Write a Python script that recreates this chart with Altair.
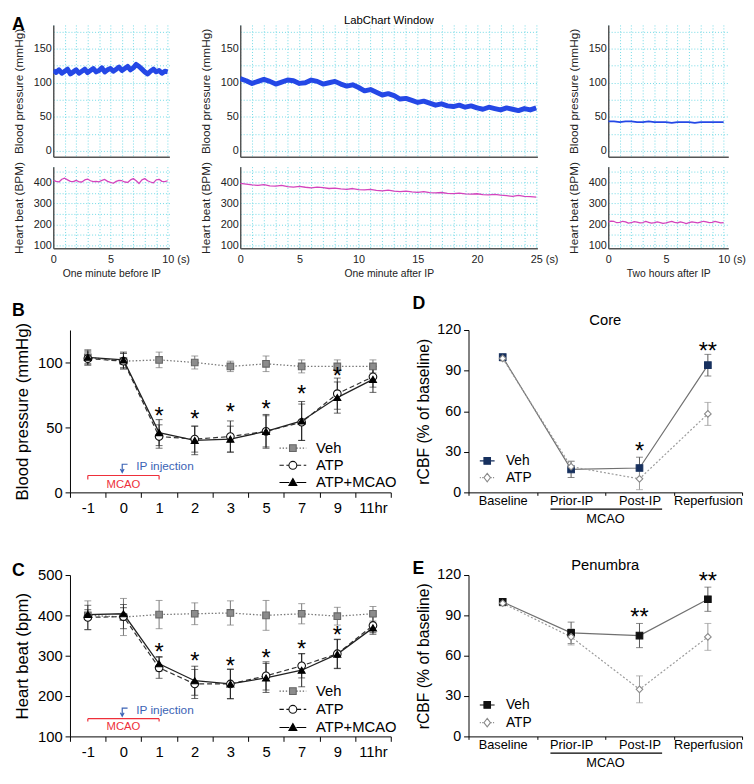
import altair as alt
import pandas as pd

FONT = "Liberation Sans"
GRID = "#6fd9e6"
TRACE_BLUE = "#2448e6"
TRACE_PINK = "#d444bd"
RED = "#ee2f3a"
IPBLUE = "#3b63b5"

# ---------------- Panel A : LabChart traces ----------------
a1_bp = [118, 115, 119, 114, 117, 120, 113, 116, 119, 114, 117, 120, 115, 118, 121, 116, 118, 122, 116, 119, 121,
         117, 120, 123, 118, 121, 124, 119, 122, 127, 124, 120, 116, 113, 117, 120, 116, 118, 114, 117, 116]
a1_hr = [410, 405, 402, 415, 420, 412, 405, 404, 410, 403, 402, 412, 416, 408, 404, 405, 403, 410, 414, 405, 400,
         396, 405, 410, 408, 402, 400, 412, 418, 408, 395, 412, 418, 408, 402, 398, 412, 415, 405, 404, 408]
a2_bp = [106, 103, 99, 102, 105, 102, 98, 101, 104, 103, 99, 100, 104, 102, 98, 100, 102, 98, 95, 97, 93, 88, 90, 86,
         82, 84, 81, 76, 77, 74, 71, 73, 70, 67, 69, 66, 65, 67, 64, 66, 63, 61, 64, 62, 60, 63, 61, 59, 62, 60, 63]
a2_hr = [396, 392, 388, 386, 389, 384, 382, 386, 380, 378, 381, 377, 374, 378, 375, 371, 373, 369, 367, 371, 366,
         364, 367, 362, 360, 363, 358, 356, 359, 355, 353, 356, 351, 350, 352, 348, 347, 349, 345, 344, 346, 342,
         341, 343, 339, 337, 333, 338, 334, 332, 330]
a3_bp = [43, 43, 42, 43, 43, 42, 42, 43, 42, 42, 42, 41, 42, 42, 42, 41, 42, 42, 42, 42, 42]
a3_hr = [212, 216, 214, 208, 210, 215, 212, 206, 208, 213, 211, 207, 209, 214, 210, 206, 208, 212, 209, 205, 207,
         211, 214, 210, 207, 212, 209, 204, 208, 212, 210, 207, 211, 215, 212, 208, 210, 214, 211, 207, 209]
t_a1 = [i * 0.25 for i in range(len(a1_bp))]
t_a1hr = [i * 0.25 for i in range(len(a1_hr))]
t_a2 = [i * 0.5 for i in range(len(a2_bp))]
t_a2hr = [i * 0.5 for i in range(len(a2_hr))]
t_a3 = [i * 0.5 for i in range(len(a3_bp))]
t_a3hr = [i * 0.25 for i in range(len(a3_hr))]
bp_grid = [0, 25, 50, 75, 100, 125, 150, 175]
hr_grid = [100, 150, 200, 250, 300, 350, 400, 450]

# ---------------- Panels B / C ----------------
hours = ["-1", "0", "1", "2", "3", "5", "7", "9", "11hr"]
group_names = ["Veh", "ATP", "ATP+MCAO"]
b_veh = [104, 101, 102, 100, 97, 99, 97, 97, 97]
b_veh_err = [6, 6, 6, 5, 4, 6, 5, 5, 5]
b_atp = [103, 101, 43, 41, 43, 47, 54, 76, 89]
b_atp_err = [5, 6, 9, 10, 12, 12, 14, 12, 8]
b_atpm = [104, 102, 46, 40, 41, 47, 55, 73, 87]
b_atpm_err = [5, 6, 10, 11, 10, 13, 15, 12, 10]
star_hours = ["1", "2", "3", "5", "7", "9"]
b_star_y = [63, 61, 66, 69, 80, 94]
b_star_txt = ["*", "*", "*", "*", "*", "*"]

c_veh = [400, 396, 402, 404, 406, 400, 404, 398, 404]
c_veh_err = [36, 46, 35, 27, 30, 37, 25, 22, 18]
c_atp = [395, 397, 270, 230, 230, 250, 275, 305, 375]
c_atp_err = [30, 30, 26, 36, 36, 35, 30, 36, 22]
c_atpm = [402, 404, 280, 238, 230, 245, 264, 304, 369]
c_atpm_err = [12, 15, 18, 36, 37, 36, 41, 36, 12]
c_star_y = [324, 300, 290, 308, 332, 366]
c_star_txt = ["*", "*", "*", "*", "*", "*"]

# ---------------- Panels D / E ----------------
phases = ["Baseline", "Prior-IP", "Post-IP", "Reperfusion"]
cbf_names = ["Veh", "ATP"]
d_veh = [100, 17, 18, 94]
d_veh_err = [2, 6, 8, 8]
d_atp = [99, 19, 10, 58]
d_atp_err = [2, 4, 8, 8.5]
d_star_phase = ["Post-IP", "Reperfusion"]
d_star_y = [35, 109]
d_star_txt = ["*", "**"]
e_veh = [100, 77, 75, 102]
e_veh_err = [2, 8, 9, 9]
e_atp = [99, 74, 35, 74]
e_atp_err = [2, 6, 10, 10]
e_star_phase = ["Post-IP", "Reperfusion"]
e_star_y = [93, 120]
e_star_txt = ["**", "**"]

ONE = pd.DataFrame({"z": [0]})
INDEP = dict(shape="independent", fill="independent", stroke="independent")


def pad_point(x, y):
    # invisible point that fixes the outer extent of a row
    return alt.Chart(ONE).mark_point(opacity=0, size=1, strokeWidth=0).encode(x=alt.value(x), y=alt.value(y))


def spacer():
    return alt.Chart(ONE).mark_point(opacity=0, size=1, strokeWidth=0).encode(
        x=alt.value(0), y=alt.value(0)).properties(width=1, height=1)


def label_text(txt, x, y, size=18, bold=True, align="left", color="black"):
    return alt.Chart(ONE).mark_text(
        font=FONT, fontSize=size, fontWeight="bold" if bold else "normal",
        align=align, baseline="middle", color=color
    ).encode(x=alt.value(x), y=alt.value(y), text=alt.value(txt))


def trace(t, v, xmax, xend, ydom, grid_vals, lab_step, ytitle, color, sw, bottom, xtitle=None):
    df = pd.DataFrame({"t": t, "v": v})
    xgrid = list(range(0, xmax + 1))
    common = dict(values=xgrid, grid=True, gridColor=GRID, gridDash=[1, 2], gridWidth=1, ticks=False,
                  domainColor="#555", domainWidth=1.5)
    if bottom:
        xaxis = alt.Axis(
            labelExpr=f"datum.value == {xmax} ? datum.label + ' (s)' : (datum.value % 5 == 0 ? datum.label : '')",
            labelAlign={"condition": {"test": f"datum.value == {xmax}", "value": "left"}, "value": "center"},
            labelOffset={"condition": {"test": f"datum.value == {xmax}", "value": -6}, "value": 0},
            labelFlush=False, labelFont=FONT, labelFontSize=11, labelColor="#222", labelPadding=5,
            title=xtitle, titleFont=FONT, titleFontSize=10.5, titleFontWeight="normal", titleColor="#222",
            titlePadding=5, **common)
    else:
        xaxis = alt.Axis(labels=False, title=None, **common)
    yaxis = alt.Axis(values=grid_vals, grid=True, gridColor=GRID, gridDash=[1, 2], gridWidth=1, ticks=False,
                     domainColor="#555", domainWidth=1.5,
                     labelExpr=f"datum.value % {lab_step} == 0 ? datum.label : ''",
                     labelFont=FONT, labelFontSize=11, labelColor="#222", labelPadding=2,
                     title=ytitle, titleFont=FONT, titleFontSize=12, titleFontWeight="normal",
                     titleColor="#222", titlePadding=8)
    return alt.Chart(df).mark_line(color=color, strokeWidth=sw, strokeJoin="round", clip=True).encode(
        x=alt.X("t:Q", scale=alt.Scale(domain=[0, xend], nice=False, zero=False), axis=xaxis),
        y=alt.Y("v:Q", scale=alt.Scale(domain=ydom, nice=False, zero=False), axis=yaxis))


# ---------- legend symbol paths (line sample + marker) ----------
def segs(x0, x1, dash, gap):
    if dash is None:
        return f"M{x0:.3f},0H{x1:.3f}"
    out, x = "", x0
    while x < x1 - 1e-6:
        e = min(x + dash, x1)
        out += f"M{x:.3f},0H{e:.3f}"
        x = e + gap
    return out


def sym(half, mhalf, dash, gap, marker):
    return segs(-half, -mhalf, dash, gap) + segs(mhalf, half, dash, gap) + marker


def sq(s):
    return f"M{-s},{-s}H{s}V{s}H{-s}Z"


def circ(r):
    return f"M{r},0A{r},{r} 0 1,1 {-r},0A{r},{r} 0 1,1 {r},0Z"


def tri(w, h):
    return f"M0,{-h}L{w},{h * 0.75}H{-w}Z"


def dia(w, h):
    return f"M0,{-h}L{w},0L0,{h}L{-w},0Z"


def stat_panel(cats, series, ydom, yticks, ytitle, width, height, xfs, yfs, tfs, tpad, xtick, xpad,
               star_cats, star_y, star_txt, leg, extra):
    xscale = alt.Scale(type="band", domain=cats, paddingInner=0, paddingOuter=0)
    xaxis = alt.Axis(title=None, tickBand="extent", labelAngle=0, labelFont=FONT, labelFontSize=xfs,
                     labelColor="black", domainColor="black", domainWidth=1, tickColor="black",
                     tickSize=xtick, labelPadding=xpad)
    yscale = alt.Scale(domain=ydom, nice=False, zero=False)
    yaxis = alt.Axis(values=yticks, title=ytitle, labelFont=FONT, labelFontSize=yfs, labelColor="black",
                     domainColor="black", tickColor="black", tickSize=5, labelPadding=3,
                     titleFont=FONT, titleFontSize=tfs, titleFontWeight="normal", titleColor="black",
                     titlePadding=tpad, grid=False)

    def X(f="cat"):
        return alt.X(f"{f}:N", scale=xscale, axis=xaxis)

    def Y(f):
        return alt.Y(f"{f}:Q", scale=yscale, axis=yaxis)

    errs, lines, pts = [], [], []
    for s in series:
        df = pd.DataFrame({"cat": cats, "mean": s["mean"],
                           "lo": [m - e for m, e in zip(s["mean"], s["err"])],
                           "hi": [m + e for m, e in zip(s["mean"], s["err"])]})
        base = alt.Chart(df)
        errs.append(base.mark_rule(color=s["ec"], strokeWidth=1).encode(x=X(), y=Y("lo"), y2="hi:Q"))
        errs.append(base.mark_tick(color=s["ec"], thickness=1, size=7).encode(x=X(), y=Y("lo")))
        errs.append(base.mark_tick(color=s["ec"], thickness=1, size=7).encode(x=X(), y=Y("hi")))
        lk = dict(color=s["lc"], strokeWidth=s["lw"])
        if s.get("dash"):
            lk["strokeDash"] = s["dash"]
        lines.append(base.mark_line(**lk).encode(x=X(), y=Y("mean")))
        pts.append(base.mark_point(shape=s["shape"], filled=True, fill=s["fill"], stroke=s["stroke"],
                                   strokeWidth=1.1, size=s["size"], opacity=1).encode(x=X(), y=Y("mean")))
    sdf = pd.DataFrame({"cat": star_cats, "sy": star_y, "s": star_txt})
    stars = alt.Chart(sdf).mark_text(font=FONT, fontSize=24, color="black", baseline="middle", dy=7).encode(
        x=X(), y=Y("sy"), text="s:N")
    names = [s["name"] for s in series]
    ldf = pd.DataFrame({"cat": [cats[0]] * len(names), "mean": [ydom[0]] * len(names), "series": names})
    legend = alt.Legend(orient="none", legendX=leg["x"], legendY=leg["y"], title=None, padding=0,
                        labelFont=FONT, labelFontSize=leg["fs"], labelColor="black", labelOffset=leg["lo"],
                        symbolOffset=leg["so"], symbolSize=leg["size"], symbolStrokeWidth=1.1,
                        rowPadding=leg["rp"])
    leg_layer = alt.Chart(ldf).transform_filter("false").mark_point(
        filled=True, size=leg["size"], strokeWidth=1.1, opacity=1).encode(
        x=X(), y=Y("mean"),
        shape=alt.Shape("series:N", scale=alt.Scale(domain=names, range=[s["lpath"] for s in series]),
                        legend=legend),
        fill=alt.Fill("series:N", scale=alt.Scale(domain=names, range=[s["fill"] for s in series]),
                      legend=legend),
        stroke=alt.Stroke("series:N", scale=alt.Scale(domain=names, range=[s["stroke"] for s in series]),
                          legend=legend))
    layers = errs + lines + pts + [stars, leg_layer] + extra
    return alt.layer(*layers).properties(width=width, height=height)


# ---------- panel B / C series ----------
def bc_series(veh, veh_e, atp, atp_e, atpm, atpm_e):
    return [
        dict(name="Veh", mean=veh, err=veh_e, ec="#777", lc="#777", lw=1.3, dash=[1.5, 2], shape="square",
             fill="#8c8c8c", stroke="#666", size=45,
             lpath=sym(3.4, 0.9, 0.35, 0.45, sq(0.85))),
        dict(name="ATP", mean=atp, err=atp_e, ec="#333", lc="#333", lw=1.2, dash=[5, 3], shape="circle",
             fill="white", stroke="#111", size=60,
             lpath=sym(3.4, 1.0, 1.1, 0.65, circ(1.0))),
        dict(name="ATP+MCAO", mean=atpm, err=atpm_e, ec="#222", lc="#222", lw=1.3, shape="triangle-up",
             fill="black", stroke="black", size=50,
             lpath=sym(3.4, 0.9, None, None, tri(1.0, 1.0))),
    ]


ARROW = "M1,-1H-0.3V0.7M-0.75,0.15L-0.3,1L0.15,0.15"


def bc_annot(y_line, y_tick, y_mcao, y_ip, y_arrow):
    one = alt.Chart(ONE)
    return [
        one.mark_rule(color=RED, strokeWidth=1.2).encode(
            x=alt.XDatum("-1", type="nominal"), x2=alt.X2Datum("1"), y=alt.YDatum(y_line, type="quantitative")),
        one.mark_rule(color=RED, strokeWidth=1.2).encode(
            x=alt.XDatum("-1", type="nominal"), y=alt.YDatum(y_line, type="quantitative"), y2=alt.Y2Datum(y_tick)),
        one.mark_rule(color=RED, strokeWidth=1.2).encode(
            x=alt.XDatum("1", type="nominal"), y=alt.YDatum(y_line, type="quantitative"), y2=alt.Y2Datum(y_tick)),
        one.mark_text(color=RED, font=FONT, fontSize=11.5, baseline="middle").encode(
            x=alt.XDatum("0", type="nominal"), y=alt.YDatum(y_mcao, type="quantitative"), text=alt.value("MCAO")),
        one.mark_text(color=IPBLUE, font=FONT, fontSize=12, align="left", baseline="middle", dx=13).encode(
            x=alt.XDatum("0", type="nominal"), y=alt.YDatum(y_ip, type="quantitative"),
            text=alt.value("IP injection")),
        one.mark_point(shape=ARROW, filled=False, color=IPBLUE, size=70, strokeWidth=1.2, opacity=1).encode(
            x=alt.XDatum("0", type="nominal"), y=alt.YDatum(y_arrow, type="quantitative")),
    ]


def de_series(veh, veh_e, atp, atp_e, veh_fill):
    return [
        dict(name="Veh", mean=veh, err=veh_e, ec="#555", lc="#707070", lw=1.2, shape="square",
             fill=veh_fill, stroke=veh_fill, size=45,
             lpath=sym(2.15, 0.9, None, None, sq(0.95))),
        dict(name="ATP", mean=atp, err=atp_e, ec="#999", lc="#9a9a9a", lw=1.2, dash=[2, 2], shape="diamond",
             fill="white", stroke="#8a8a8a", size=45,
             lpath=sym(2.15, 1.0, 0.3, 0.4, dia(0.95, 1.25))),
    ]


def de_annot(h, title_txt, letter, ly):
    one = alt.Chart(ONE)
    return [
        one.mark_rule(color="black", strokeWidth=1.2, xOffset=-21, x2Offset=23).encode(
            x=alt.XDatum("Prior-IP", type="nominal"), x2=alt.X2Datum("Post-IP"), y=alt.value(h + 17)),
        one.mark_text(color="black", font=FONT, fontSize=13, baseline="middle", dx=35).encode(
            x=alt.XDatum("Prior-IP", type="nominal"), y=alt.value(h + 27), text=alt.value("MCAO")),
        label_text(title_txt, 139, -10, size=15, bold=False, align="center"),
        label_text(letter, -57, ly),
    ]


# ---------- build panels ----------
A1bp = alt.layer(trace(t_a1, a1_bp, 10, 10.15, [-9, 185], bp_grid, 50, "Blood pressure (mmHg)", TRACE_BLUE, 5, False),
                 label_text("A", -42, 0), pad_point(-42, -10)).properties(width=118, height=134)
A1hr = alt.layer(trace(t_a1hr, a1_hr, 10, 10.15, [86, 475], hr_grid, 100, "Heart beat (BPM)", TRACE_PINK, 1.3, True,
                       "One minute before IP"), pad_point(50, 119)).properties(width=118, height=83)
A2bp = alt.layer(trace(t_a2, a2_bp, 25, 25.1, [-9, 185], bp_grid, 50, "Blood pressure (mmHg)", TRACE_BLUE, 5, False),
                 label_text("LabChart Window", 151, -4, size=11.5, bold=False, align="center")
                 ).properties(width=302, height=134)
A2hr = trace(t_a2hr, a2_hr, 25, 25.1, [86, 475], hr_grid, 100, "Heart beat (BPM)", TRACE_PINK, 1.3, True,
             "One minute after IP").properties(width=302, height=83)
A3bp = trace(t_a3, a3_bp, 10, 10.4, [-9, 185], bp_grid, 50, "Blood pressure (mmHg)", TRACE_BLUE, 1.8,
             False).properties(width=122, height=134)
A3hr = trace(t_a3hr, a3_hr, 10, 10.4, [86, 475], hr_grid, 100, "Heart beat (BPM)", TRACE_PINK, 1.3, True,
             "Two hours after IP").properties(width=122, height=83)

B = stat_panel(hours, bc_series(b_veh, b_veh_err, b_atp, b_atp_err, b_atpm, b_atpm_err),
               [0, 125], [0, 25, 50, 75, 100, 125], "Blood pressure (mmHg)", 326, 165, 15, 15, 17, 6, 5, 3,
               star_hours, b_star_y, b_star_txt,
               dict(x=205, y=112.5, fs=15, lo=16, so=14, size=64, rp=1.5),
               bc_annot(13, 10, 6, 20, 18.5) + [label_text("B", -59, -19), pad_point(-59, -40), pad_point(50, 203)])
C = stat_panel(hours, bc_series(c_veh, c_veh_err, c_atp, c_atp_err, c_atpm, c_atpm_err),
               [100, 500], [100, 200, 300, 400, 500], "Heart beat (bpm)", 326, 164, 15, 15, 17, 6, 5, 3,
               star_hours, c_star_y, c_star_txt,
               dict(x=205, y=110.5, fs=15, lo=16, so=14, size=64, rp=2.5),
               bc_annot(144, 137, 122, 165, 160) + [label_text("C", -59, -4), pad_point(-59, -39)])
D = stat_panel(phases, de_series(d_veh, d_veh_err, d_atp, d_atp_err, "#17305e"),
               [0, 120], [0, 30, 60, 90, 120], "rCBF (% of baseline)", 278, 165, 13, 14.5, 16, 5, 3, -1,
               d_star_phase, d_star_y, d_star_txt,
               dict(x=0, y=126, fs=14, lo=12, so=12, size=49, rp=3),
               de_annot(165, "Core", "D", -26))
E = stat_panel(phases, de_series(e_veh, e_veh_err, e_atp, e_atp_err, "#111111"),
               [0, 120], [0, 30, 60, 90, 120], "rCBF (% of baseline)", 278, 164, 13, 14.5, 16, 5, 3, -1,
               e_star_phase, e_star_y, e_star_txt,
               dict(x=0, y=125, fs=14, lo=12, so=12, size=49, rp=4),
               de_annot(164, "Penumbra", "E", -6))

rowA = alt.concat(A1bp, A2bp, A3bp, A1hr, A2hr, A3hr, columns=3,
                  spacing={"row": 10, "column": 72}, bounds="flush")
rowB = alt.hconcat(B, D, spacing=79, bounds="flush").resolve_scale(**INDEP)
rowC = alt.hconcat(C, E, spacing=79, bounds="flush").resolve_scale(**INDEP)

wrapA = alt.hconcat(spacer(), rowA, spacing=0)
wrapB = alt.hconcat(spacer(), rowB, spacing=0).resolve_scale(**INDEP)
wrapC = alt.hconcat(spacer(), rowC, spacing=0).resolve_scale(**INDEP)

chart = alt.vconcat(wrapA, wrapB, wrapC, spacing=5).resolve_scale(**INDEP).properties(
    padding=0
).configure_view(stroke="transparent")

chart.save("out.html", embed_options={"renderer": "svg", "actions": False})
